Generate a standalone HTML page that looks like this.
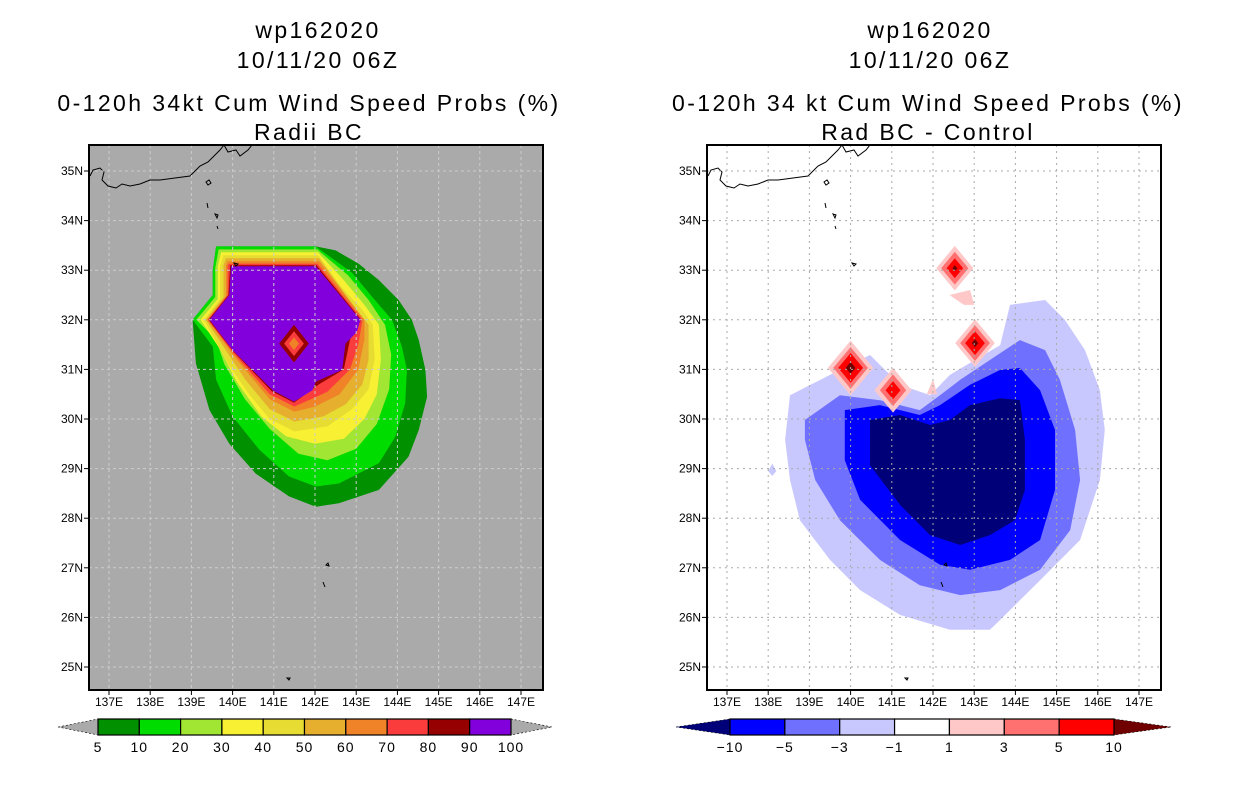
<!DOCTYPE html>
<html><head><meta charset="utf-8"><style>
html,body{margin:0;padding:0;background:#fff;}
svg{display:block;font-family:"Liberation Sans",sans-serif;}
</style></head><body>
<svg id="fig" width="1236" height="800" viewBox="0 0 1236 800">
<g font-size="23" letter-spacing="2.4" text-anchor="middle" fill="#000">
<text x="318" y="38">wp162020</text><text x="318" y="68">10/11/20 06Z</text>
<text x="309" y="111">0-120h 34kt Cum Wind Speed Probs (%)</text><text x="309" y="140">Radii BC</text></g>
<g font-size="23" letter-spacing="2.4" text-anchor="middle" fill="#000">
<text x="930" y="38">wp162020</text><text x="930" y="68">10/11/20 06Z</text>
<text x="928" y="111">0-120h 34 kt Cum Wind Speed Probs (%)</text><text x="928" y="140">Rad BC - Control</text></g>
<g id="left"></g>
<g id="right"></g>
<g id="cbl"></g>
<g id="cbr"></g>
</svg>
<script>
const NS="http://www.w3.org/2000/svg";
const lonTicks=[137,138,139,140,141,142,143,144,145,146,147];
const latTicks=[25,26,27,28,29,30,31,32,33,34,35];
const probLevels=[5,10,20,30,40,50,60,70,80,90];
const probColors=["#009000","#00dc00","#a0e632","#f8f032","#e6dc32","#e6af2d","#f08228","#fa3c3c","#960000","#8200dc"];
const probPolys=[
[[139.6,33.48],[142.02,33.48],[142.5,33.40],[143.06,33.13],[143.55,32.8],[144.03,32.4],[144.35,32.0],[144.52,31.59],[144.68,30.99],[144.72,30.45],[144.52,29.78],[144.27,29.24],[143.55,28.57],[142.58,28.30],[142.02,28.23],[141.37,28.44],[140.56,28.9],[139.92,29.5],[139.44,30.18],[139.11,31.12],[139.03,32.0],[139.52,32.5],[139.52,33.0]],
[[139.6,33.48],[142.02,33.48],[142.9,32.95],[143.39,32.46],[143.87,32.0],[144.11,31.46],[144.23,30.99],[144.19,30.32],[143.95,29.64],[143.55,29.11],[142.58,28.70],[142.02,28.64],[141.37,28.84],[140.65,29.38],[140.0,30.05],[139.6,30.79],[139.52,31.46],[139.03,32.0],[139.52,32.5],[139.52,33.0]],
[[139.66,33.42],[142.05,33.42],[142.8,32.9],[143.3,32.4],[143.7,31.9],[143.85,31.3],[143.8,30.6],[143.5,29.9],[143.0,29.4],[142.3,29.17],[141.6,29.3],[140.9,29.8],[140.3,30.4],[139.8,31.1],[139.6,31.6],[139.12,32.0],[139.58,32.46],[139.58,33.05]],
[[139.72,33.36],[142.07,33.36],[142.7,32.8],[143.2,32.3],[143.55,31.9],[143.6,31.2],[143.5,30.5],[143.2,30.0],[142.7,29.6],[142.0,29.5],[141.3,29.65],[140.7,30.05],[140.1,30.75],[139.7,31.4],[139.22,32.0],[139.64,32.42],[139.64,33.08]],
[[139.78,33.3],[142.08,33.3],[142.6,32.7],[143.15,32.2],[143.4,31.9],[143.45,31.2],[143.3,30.6],[142.9,30.2],[142.3,29.85],[141.5,29.75],[140.9,30.0],[140.4,30.5],[139.9,31.1],[139.3,32.0],[139.7,32.42],[139.7,33.08]],
[[139.84,33.24],[142.1,33.24],[143.1,32.1],[143.3,31.9],[143.3,31.2],[143.15,30.7],[142.75,30.3],[142.2,30.05],[141.5,29.95],[140.9,30.2],[140.3,30.8],[139.35,32.0],[139.78,32.45],[139.78,33.1]],
[[139.88,33.18],[142.1,33.18],[143.2,32.0],[143.2,31.6],[143.05,31.0],[142.6,30.5],[142.0,30.25],[141.5,30.15],[140.9,30.4],[140.1,31.2],[139.38,32.0],[139.84,32.48],[139.84,33.1]],
[[139.92,33.13],[142.06,33.13],[143.15,32.0],[143.05,31.5],[142.85,31.0],[142.3,30.55],[141.5,30.25],[140.9,30.5],[140.0,31.35],[139.4,32.0],[139.88,32.5],[139.88,33.1]],
[[139.94,33.1],[142.04,33.1],[143.12,32.0],[142.85,31.6],[142.7,31.0],[142.1,30.7],[141.49,30.33],[140.95,30.56],[140.0,31.38],[139.42,32.0],[139.9,32.5]],
[[139.96,33.08],[142.02,33.08],[143.10,32.0],[143.02,31.76],[142.74,31.52],[142.66,30.99],[142.02,30.75],[141.94,30.58],[141.49,30.35],[140.97,30.58],[140.0,31.39],[139.44,32.0],[139.92,32.5]]];
const probDiamonds=[[141.49,31.52,0.36,0.38,8],[141.49,31.52,0.24,0.25,7],[141.49,31.52,0.12,0.13,6]];
const diffLevels=[-10,-5,-3,-1,1,3,5,10];
const diffColors=["#000078","#0000ff","#7070ff","#c8c8ff","#ffffff","#ffc8c8","#ff7070","#ff0000","#700000"];
const diffPolys=[
{c:3,p:[[138.53,30.48],[139.5,30.89],[140.47,31.29],[141.2,30.69],[141.93,30.48],[142.41,30.89],[143.02,31.19],[143.63,31.49],[143.87,32.3],[144.72,32.4],[145.2,32.0],[145.69,31.39],[146.05,30.58],[146.17,29.78],[146.05,28.77],[145.57,27.56],[144.6,26.75],[143.63,25.95],[143.38,25.75],[142.41,25.75],[141.2,26.05],[140.23,26.55],[139.5,27.16],[138.77,27.96],[138.53,28.77],[138.41,29.58]]},
{c:3,p:[[138.1,29.1],[138.2,28.95],[138.1,28.85],[138.0,28.95]]},
{c:2,p:[[138.89,29.98],[139.74,30.48],[140.71,30.38],[141.2,30.28],[141.68,30.18],[142.17,30.48],[142.66,30.79],[143.38,31.19],[144.11,31.59],[144.72,31.39],[145.08,30.79],[145.45,29.78],[145.57,28.77],[145.33,27.76],[144.6,26.96],[143.63,26.55],[142.66,26.45],[141.68,26.65],[140.71,27.16],[139.74,27.96],[139.14,28.77],[138.89,29.58]]},
{c:1,p:[[139.86,30.18],[140.71,30.28],[141.68,30.08],[142.17,30.28],[142.9,30.69],[143.63,30.99],[144.11,31.03],[144.6,30.58],[144.96,29.78],[144.96,28.57],[144.6,27.56],[143.87,27.16],[142.9,26.96],[142.17,27.06],[141.2,27.56],[140.23,28.37],[139.86,29.17]]},
{c:0,p:[[140.47,29.98],[141.2,30.08],[141.93,29.88],[142.41,29.98],[142.9,30.28],[143.63,30.42],[144.11,30.38],[144.23,29.58],[144.23,28.57],[143.99,27.96],[143.38,27.66],[142.66,27.46],[141.93,27.66],[141.2,28.27],[140.47,29.07]]},
{c:5,p:[[142.4,32.5],[142.9,32.6],[143.0,32.3],[142.75,32.3]]},
{c:5,p:[[141.85,30.5],[142.0,30.8],[142.1,30.5]]}];
const diffDiamonds=[[140.0,31.03,0.55,5],[140.0,31.03,0.42,6],[140.0,31.03,0.3,7],[140.0,31.03,0.12,8],
[141.03,30.58,0.45,5],[141.03,30.58,0.32,6],[141.03,30.58,0.18,7],
[142.53,33.04,0.45,5],[142.53,33.04,0.33,6],[142.53,33.04,0.2,7],[142.53,33.04,0.06,8],
[143.02,31.53,0.48,5],[143.02,31.53,0.36,6],[143.02,31.53,0.24,7],[143.02,31.53,0.08,8]];

const BOX={top:145,bot:690,w:454};
function xs(x0){return lon=>x0+(lon-137)*41.2;}
function ys(lat){return 667-(lat-25)*49.6;}
function mk(t,a,parent){const e=document.createElementNS(NS,t);for(const k in a)e.setAttribute(k,a[k]);parent.appendChild(e);return e;}
function polyStr(p,X){return p.map(q=>X(q[0]).toFixed(1)+","+ys(q[1]).toFixed(1)).join(" ");}
function diamond(lon,lat,hx,hy,X){return [[lon,lat+hy],[lon+hx,lat],[lon,lat-hy],[lon-hx,lat]];}

function panel(g,left,x0,bg,gridCol,gridDash,fill){
  const X=xs(x0);
  const cid="clip"+left;
  const defs=mk("defs",{},g);const cp=mk("clipPath",{id:cid},defs);mk("rect",{x:left,y:BOX.top,width:BOX.w,height:BOX.bot-BOX.top},cp);
  const bgR=mk("rect",{x:left,y:BOX.top,width:BOX.w,height:BOX.bot-BOX.top,fill:bg},g);
  
  
  const inner=mk("g",{"clip-path":"url(#"+cid+")"},g);
  fill(inner,X);
  const coast=mk("path",{d:"M0,176 L3,170 L10,168 L14,172 L12,180 L18,186 L26,188 L32,184 L40,186 L50,184 L60,180 L70,180 L85,178 L100,176 L110,166 L118,162 L124,156 L130,150 L134,145 L138,152 L146,150 L150,156 L158,150 L162,145 M116,182 l3,-2 l2,3 l-3,2z M117,203 l1,5 M125,214 l3,1 l-1,3z M127,226 l1,3 M144,263 l4,1 l-2,2z M236,565 l2,-2 l1,3z M233,582 l2,5 M197,678 l3,0 l-1,2z",fill:"none",stroke:"#000","stroke-width":1,transform:"translate("+(left+1)+",0)"},inner);
  
  
  const grid=mk("g",{stroke:gridCol,"stroke-width":1,"stroke-dasharray":gridDash},inner);
  
  
  lonTicks.forEach(l=>mk("line",{x1:X(l),x2:X(l),y1:BOX.top,y2:BOX.bot},grid));
  latTicks.forEach(l=>mk("line",{x1:left,x2:left+BOX.w,y1:ys(l),y2:ys(l)},grid));
  const fr=mk("rect",{x:left,y:BOX.top,width:BOX.w,height:BOX.bot-BOX.top,fill:"none",stroke:"#000","stroke-width":2},g);
  
  
  const ax=mk("g",{"font-size":12,fill:"#000"},g);
  
  
  lonTicks.forEach(l=>{mk("line",{x1:X(l),x2:X(l),y1:BOX.bot,y2:BOX.bot+5,stroke:"#000"},ax);
    const t=mk("text",{x:X(l),y:BOX.bot+16,"text-anchor":"middle"},ax);t.textContent=l+"E";
    
    });
  latTicks.forEach(l=>{mk("line",{x1:left-5,x2:left,y1:ys(l),y2:ys(l),stroke:"#000"},ax);
    const t=mk("text",{x:left-6,y:ys(l)+4,"text-anchor":"end"},ax);t.textContent=l+"N";
    
    });
}
panel(document.getElementById("left"),89,109,"#aaaaaa","#cccccc","3,3",(g,X)=>{
  probPolys.forEach((p,i)=>{const e=mk("polygon",{points:polyStr(p,X),fill:probColors[i]},g);
    
    });
  probDiamonds.forEach(d=>{const e=mk("polygon",{points:polyStr(diamond(d[0],d[1],d[2],d[3]),X),fill:probColors[d[4]]},g);
    
    });
});
panel(document.getElementById("right"),707,727,"#ffffff","#aaaaaa","2,4",(g,X)=>{
  diffPolys.forEach(o=>{const e=mk("polygon",{points:polyStr(o.p,X),fill:diffColors[o.c]},g);
    
    });
  diffDiamonds.forEach(d=>{const e=mk("polygon",{points:polyStr(diamond(d[0],d[1],d[2],d[2]),X),fill:diffColors[d[3]]},g);
    
    });
});
function colorbar(g,x0,x1,tipL,tipR,cols,labels,triL,triR){
  const n=cols.length,w=(x1-x0)/n,y0=719,y1=735,ym=727;
  const tl=mk("polygon",{points:`${tipL},${ym} ${x0},${y0} ${x0},${y1}`,fill:triL,stroke:"#000","stroke-width":0.6,"stroke-dasharray":"2,2"},g);
  
  
  const tr=mk("polygon",{points:`${tipR},${ym} ${x1},${y0} ${x1},${y1}`,fill:triR,stroke:"#000","stroke-width":0.6,"stroke-dasharray":"2,2"},g);
  
  
  cols.forEach((c,i)=>{const r=mk("rect",{x:x0+i*w,y:y0,width:w,height:y1-y0,fill:c,stroke:"#000","stroke-width":1.2},g);
    
    });
  labels.forEach((l,i)=>{const bx=labels.length===n+1?x0+i*w:x0+(i+1)*w;
    const t=mk("text",{x:bx,y:752,"text-anchor":"middle","font-size":14,"letter-spacing":1},g);t.textContent=String(l).replace("-","\u2212");
    
    });
}
colorbar(document.getElementById("cbl"),98,511,58,552,probColors,[...probLevels,100],"#aaaaaa","#aaaaaa");
colorbar(document.getElementById("cbr"),730,1114,676,1171,diffColors.slice(1,8),diffLevels,diffColors[0],diffColors[8]);
</script>
</body></html>
